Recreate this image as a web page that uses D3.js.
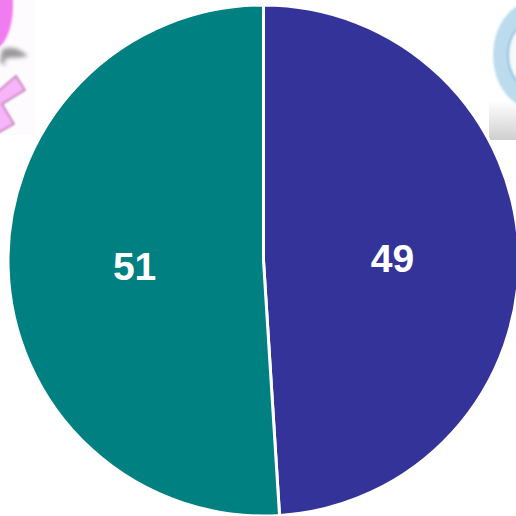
<!DOCTYPE html>
<html><head><meta charset="utf-8">
<script src="https://cdn.jsdelivr.net/npm/d3@7"></script>
<style>html,body{margin:0;padding:0;background:#fff;overflow:hidden}svg{display:block}</style>
</head><body>
<svg id="c" width="516" height="516"></svg>
<script>
const categories = ["Male", "Female"];
const values = [49, 51];
const colors = ["#333399", "#008080"];

const svg = d3.select("#c");
const defs = svg.append("defs");
const blur = (id,s)=>defs.append("filter").attr("id",id).attr("filterUnits","userSpaceOnUse")
  .attr("x",-60).attr("y",-60).attr("width",660).attr("height",300)
  .append("feGaussianBlur").attr("stdDeviation",s);
blur("b1",0.8); blur("b2",2);
const g1 = defs.append("linearGradient").attr("id","gr").attr("x1",0).attr("x2",0).attr("y1",0).attr("y2",1);
g1.append("stop").attr("offset","0.72").attr("stop-color","#fff");
g1.append("stop").attr("offset","1").attr("stop-color","#cfcfcf");

// left icon (female symbol fragment)
const left = svg.append("g");
left.append("rect").attr("x",0).attr("y",0).attr("width",35).attr("height",135).attr("fill","#fefbfe");
left.append("ellipse").attr("cx",-8).attr("cy",5).attr("rx",21).attr("ry",45).attr("fill","#f07cf0").attr("filter","url(#b1)");
left.append("path").attr("d","M2,50 C10,45 20,49 28,56 C18,59 10,56 4,60 L6,66 L0,62 Z").attr("fill","#9a9a9a").attr("filter","url(#b2)");
left.append("path").attr("d","M-4,93 L16,76 L25,90 L2,104 L14,124 L-4,134 Z")
  .attr("fill","#f8b4f8").attr("stroke","#b873b0").attr("stroke-width",1.5).attr("filter","url(#b1)");

// right icon (male symbol fragment)
const right = svg.append("g");
right.append("rect").attr("x",489).attr("y",0).attr("width",27).attr("height",140).attr("fill","url(#gr)");
right.append("ellipse").attr("cx",535).attr("cy",55).attr("rx",42).attr("ry",54).attr("fill","#bcdcee").attr("filter","url(#b1)");
right.append("ellipse").attr("cx",535).attr("cy",55).attr("rx",27).attr("ry",35).attr("fill","#f4f9fc").attr("stroke","#8fc0de").attr("stroke-width",2).attr("filter","url(#b1)");

const cx = 263.5, cy = 260.5, r = 255.5;
const pie = d3.pie().sort(null).value(d => d);
const arc = d3.arc().innerRadius(0).outerRadius(r);
const arcs = pie(values);
const g = svg.append("g").attr("transform",`translate(${cx},${cy})`);
g.selectAll("path").data(arcs).join("path")
  .attr("d",arc).attr("fill",(d,i)=>colors[i]).attr("stroke","#fff").attr("stroke-width",3).attr("stroke-linejoin","round");

const labelArc = d3.arc().innerRadius(129).outerRadius(129);
g.selectAll("text").data(arcs).join("text")
  .attr("transform",d=>{const c=labelArc.centroid(d);return `translate(${c[0]},${c[1]+2})`;})
  .attr("text-anchor","middle").attr("dy","0.35em")
  .attr("font-family","'Liberation Sans',Arial,sans-serif").attr("font-weight","bold").attr("font-size",39)
  .attr("fill","#fff").text(d=>d.value);
</script>
</body></html>
